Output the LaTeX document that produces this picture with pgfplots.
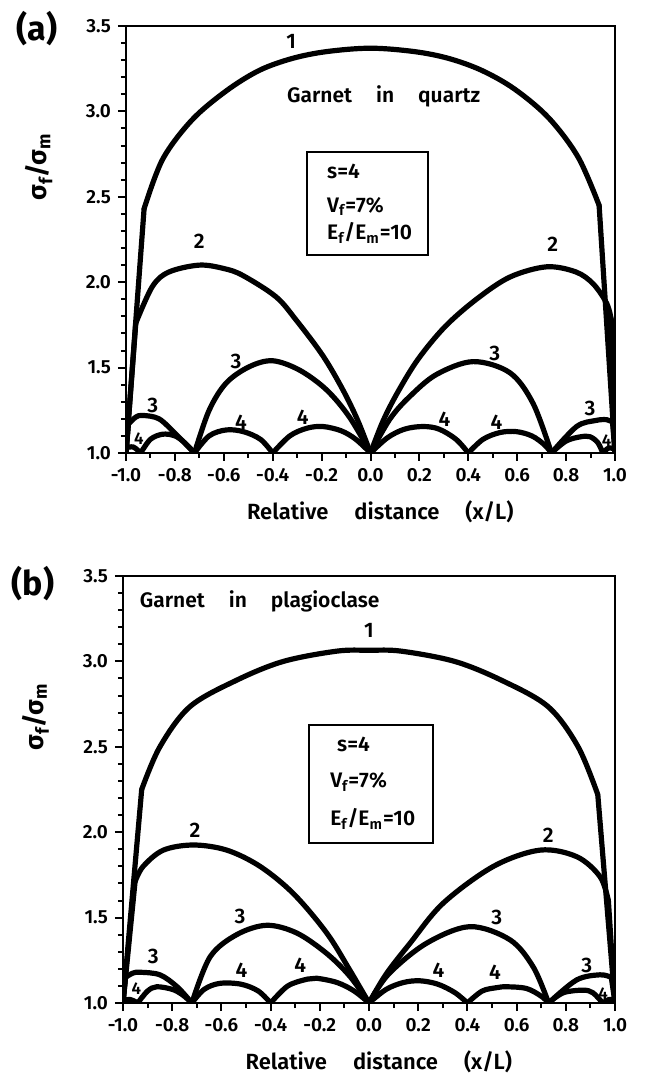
\documentclass[border=0pt]{standalone}
\usepackage{pgfplots}
\pgfplotsset{compat=1.18}
\usepackage{fontspec}
\setmainfont{Fira Sans}[UprightFont={* SemiBold},BoldFont={* Bold}]
\newcommand{\lf}{\fontsize{10.5}{12}\selectfont}
\pgfplotsset{
  myaxis/.style={
    scale only axis, height=213.5pt,
    xmin=-1, xmax=1, ymin=1, ymax=3.5,
    xtick={-1,-0.8,-0.6,-0.4,-0.2,0,0.2,0.4,0.6,0.8,1},
    xticklabels={-1.0,-0.8,-0.6,-0.4,-0.2,0.0,0.2,0.4,0.6,0.8,1.0},
    ytick={1,1.5,2,2.5,3,3.5},
    yticklabels={1.0,1.5,2.0,2.5,3.0,3.5},
    minor x tick num=1, minor y tick num=4,
    tick align=outside, xtick pos=left, ytick pos=left,
    major tick length=4pt, minor tick length=2.5pt,
    tick style={line width=1pt, black},
    axis line style={line width=1.4pt},
    tick label style={font=\fontsize{9.5}{10}\selectfont},
    xlabel={Relative\hspace{13pt}distance\hspace{13pt}(x/L)},
    xlabel style={at={(rel axis cs:0.52,-0.138)}, anchor=center, font=\fontsize{11}{12}\selectfont},
    ylabel={\bfseries σ\textsubscript{f}/σ\textsubscript{m}},
    ylabel style={at={(rel axis cs:-0.178,0.67)}, anchor=center, font=\fontsize{13}{14}\selectfont},
  },
  crv/.style={black, line width=2.6pt, line join=round, line cap=round},
}
\newcommand{\sm}[1]{\addplot[crv, smooth, tension=0.55] coordinates {#1};}
\newcommand{\st}[1]{\addplot[crv] coordinates {#1};}
\begin{document}
\begin{tikzpicture}
\useasboundingbox (0,0) rectangle (322.5pt,538pt);
\node[font=\bfseries\fontsize{17}{17}\selectfont] at (18.5pt,523.5pt) {(a)};
\node[font=\bfseries\fontsize{17}{17}\selectfont] at (16.5pt,246pt) {(b)};
% ---------------- panel (a)
\begin{axis}[myaxis, width=244.5pt, at={(63pt,311.5pt)}, anchor=south west]
% curve 1
\st{(-1,1.0) (-0.926,2.43)}
\sm{(-0.926,2.43) (-0.85,2.72) (-0.73,2.95) (-0.59,3.12) (-0.455,3.24) (-0.32,3.31) (-0.18,3.35) (0,3.37) (0.18,3.35) (0.32,3.31) (0.455,3.24) (0.59,3.13) (0.73,2.96) (0.85,2.73) (0.935,2.45)}
\st{(0.935,2.45) (1,1.0)}
% curve 2
\st{(-1,1.0) (-0.96,1.76)}
\sm{(-0.96,1.76) (-0.892,1.975) (-0.824,2.06) (-0.70,2.10) (-0.60,2.08) (-0.523,2.04) (-0.387,1.915) (-0.305,1.78) (-0.195,1.57) (-0.113,1.37) (-0.052,1.19) (0,1.0)}
\sm{(0,1.0) (0.052,1.19) (0.113,1.36) (0.195,1.55) (0.305,1.74) (0.433,1.90) (0.57,2.03) (0.72,2.09) (0.84,2.06) (0.911,1.99) (0.966,1.876) (0.985,1.78)}
\st{(0.985,1.78) (1,1.0)}
% curve 3
\st{(-1,1.0) (-0.99,1.17)}
\sm{(-0.99,1.17) (-0.96,1.21) (-0.933,1.22) (-0.865,1.20) (-0.796,1.11) (-0.72,1.0)}
\sm{(-0.72,1.0) (-0.66,1.25) (-0.59,1.41) (-0.496,1.505) (-0.40,1.54) (-0.29,1.485) (-0.18,1.37) (-0.086,1.21) (0,1.0)}
\sm{(0,1.0) (0.08,1.20) (0.16,1.33) (0.27,1.46) (0.42,1.535) (0.57,1.47) (0.665,1.29) (0.74,1.0)}
\sm{(0.74,1.0) (0.843,1.155) (0.92,1.19) (0.966,1.195) (0.99,1.18)}
\st{(0.99,1.18) (1,1.0)}
% curve 4
\sm{(-1,1.03) (-0.97,1.035) (-0.94,1.0)}
\sm{(-0.94,1.0) (-0.9,1.08) (-0.85,1.11) (-0.80,1.10) (-0.76,1.06) (-0.72,1.0)}
\sm{(-0.72,1.0) (-0.66,1.10) (-0.59,1.135) (-0.52,1.125) (-0.45,1.08) (-0.40,1.0)}
\sm{(-0.40,1.0) (-0.33,1.10) (-0.26,1.145) (-0.195,1.155) (-0.12,1.13) (-0.06,1.08) (0,1.0)}
\sm{(0,1.0) (0.07,1.09) (0.14,1.14) (0.215,1.155) (0.28,1.14) (0.35,1.08) (0.40,1.0)}
\sm{(0.40,1.0) (0.46,1.08) (0.53,1.12) (0.597,1.125) (0.66,1.10) (0.71,1.05) (0.74,1.0)}
\sm{(0.74,1.0) (0.80,1.07) (0.86,1.095) (0.898,1.095) (0.93,1.06) (0.95,1.0)}
\sm{(0.95,1.0) (0.975,1.03) (1,1.02)}
% labels
\node[font=\lf] at (axis cs:-0.325,3.41) {1};
\node[font=\lf] at (axis cs:-0.70,2.24) {2};
\node[font=\lf] at (axis cs:0.745,2.22) {2};
\node[font=\lf] at (axis cs:-0.55,1.535) {3};
\node[font=\lf] at (axis cs:-0.89,1.28) {3};
\node[font=\lf] at (axis cs:0.508,1.58) {3};
\node[font=\lf] at (axis cs:0.898,1.26) {3};
\node[font=\fontsize{8.5}{9}\selectfont] at (axis cs:-0.947,1.085) {4};
\node[font=\lf] at (axis cs:-0.53,1.18) {4};
\node[font=\lf] at (axis cs:-0.277,1.21) {4};
\node[font=\lf] at (axis cs:0.303,1.20) {4};
\node[font=\lf] at (axis cs:0.515,1.18) {4};
\node[font=\fontsize{8.5}{9}\selectfont] at (axis cs:0.966,1.075) {4};
\node[font=\lf, anchor=base west] at (rel axis cs:0.315,0.820) {Garnet\hspace{12pt}in\hspace{12pt}quartz};
\draw[line width=1.1pt] (rel axis cs:0.370,0.464) rectangle (rel axis cs:0.618,0.705);
\node[font=\lf, anchor=base west] at (rel axis cs:0.397,0.644) {s=4};
\node[font=\lf, anchor=base west] at (rel axis cs:0.397,0.564) {V\textsubscript{f}=7\%};
\node[font=\lf, anchor=base west] at (rel axis cs:0.397,0.499) {E\textsubscript{f}/E\textsubscript{m}=10};
\end{axis}
% ---------------- panel (b)
\begin{axis}[myaxis, width=246pt, at={(61.5pt,36.5pt)}, anchor=south west]
% curve 1
\st{(-1,1.0) (-0.924,2.25)}
\sm{(-0.924,2.25) (-0.85,2.50) (-0.728,2.735) (-0.538,2.89) (-0.348,3.0) (-0.131,3.06) (0,3.065) (0.131,3.06) (0.348,3.0) (0.538,2.89) (0.728,2.735) (0.85,2.50) (0.93,2.22)}
\st{(0.93,2.22) (1,1.0)}
% curve 2
\st{(-1,1.0) (-0.951,1.71)}
\sm{(-0.951,1.71) (-0.918,1.80) (-0.836,1.895) (-0.714,1.925) (-0.578,1.895) (-0.443,1.80) (-0.307,1.64) (-0.172,1.41) (-0.077,1.19) (0,1.0)}
\sm{(0,1.0) (0.07,1.17) (0.167,1.35) (0.302,1.585) (0.506,1.80) (0.695,1.895) (0.844,1.857) (0.939,1.74) (0.973,1.60)}
\st{(0.973,1.60) (1,1.0)}
% curve 3
\st{(-1,1.0) (-0.99,1.15)}
\sm{(-0.99,1.15) (-0.96,1.175) (-0.93,1.18) (-0.85,1.165) (-0.78,1.095) (-0.72,1.0)}
\sm{(-0.72,1.0) (-0.646,1.27) (-0.538,1.40) (-0.416,1.455) (-0.294,1.41) (-0.172,1.29) (-0.077,1.155) (0,1.0)}
\sm{(0,1.0) (0.08,1.17) (0.234,1.35) (0.41,1.447) (0.573,1.37) (0.668,1.21) (0.73,1.0)}
\sm{(0.73,1.0) (0.844,1.135) (0.939,1.165) (0.985,1.15)}
\st{(0.985,1.15) (1,1.0)}
% curve 4
\sm{(-1,1.015) (-0.97,1.02) (-0.94,1.0)}
\sm{(-0.94,1.0) (-0.90,1.07) (-0.863,1.095) (-0.80,1.08) (-0.76,1.05) (-0.72,1.0)}
\sm{(-0.72,1.0) (-0.67,1.08) (-0.606,1.115) (-0.52,1.11) (-0.45,1.07) (-0.40,1.0)}
\sm{(-0.40,1.0) (-0.33,1.10) (-0.25,1.14) (-0.213,1.145) (-0.13,1.12) (-0.06,1.07) (0,1.0)}
\sm{(0,1.0) (0.07,1.08) (0.14,1.12) (0.207,1.13) (0.28,1.11) (0.35,1.06) (0.40,1.0)}
\sm{(0.40,1.0) (0.46,1.07) (0.52,1.09) (0.56,1.095) (0.64,1.085) (0.70,1.04) (0.73,1.0)}
\sm{(0.73,1.0) (0.79,1.06) (0.87,1.075) (0.91,1.06) (0.95,1.0)}
\sm{(0.95,1.0) (0.975,1.02) (1,1.015)}
% labels
\node[font=\lf] at (axis cs:0,3.18) {1};
\node[font=\lf] at (axis cs:-0.707,2.01) {2};
\node[font=\lf] at (axis cs:0.729,1.98) {2};
\node[font=\lf] at (axis cs:-0.524,1.505) {3};
\node[font=\lf] at (axis cs:-0.877,1.27) {3};
\node[font=\lf] at (axis cs:0.519,1.50) {3};
\node[font=\lf] at (axis cs:0.885,1.22) {3};
\node[font=\fontsize{8.5}{9}\selectfont] at (axis cs:-0.946,1.086) {4};
\node[font=\lf] at (axis cs:-0.518,1.19) {4};
\node[font=\lf] at (axis cs:-0.28,1.22) {4};
\node[font=\lf] at (axis cs:0.282,1.19) {4};
\node[font=\lf] at (axis cs:0.512,1.18) {4};
\node[font=\fontsize{8.5}{9}\selectfont] at (axis cs:0.952,1.057) {4};
\node[font=\lf, anchor=base west] at (rel axis cs:0.02,0.927) {Garnet\hspace{12pt}in\hspace{12pt}plagioclase};
\draw[line width=1.1pt] (rel axis cs:0.378,0.375) rectangle (rel axis cs:0.630,0.651);
\node[font=\lf, anchor=base west] at (rel axis cs:0.421,0.588) {s=4};
\node[font=\lf, anchor=base west] at (rel axis cs:0.407,0.504) {V\textsubscript{f}=7\%};
\node[font=\lf, anchor=base west] at (rel axis cs:0.407,0.415) {E\textsubscript{f}/E\textsubscript{m}=10};
\end{axis}
\end{tikzpicture}
\end{document}
